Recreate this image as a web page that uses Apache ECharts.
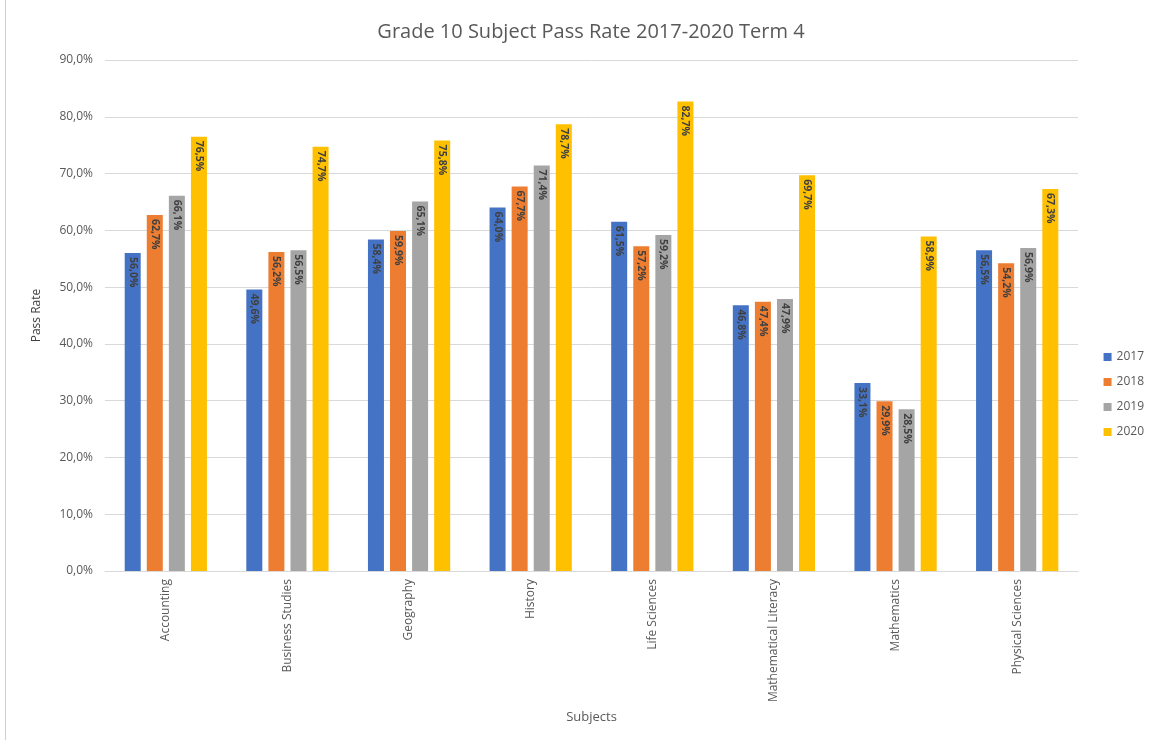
<!DOCTYPE html>
<html>
<head>
<meta charset="utf-8">
<script src="https://cdn.jsdelivr.net/npm/echarts@6/dist/echarts.min.js"></script>
<style>
  html, body { margin: 0; padding: 0; background: #fff; }
  #chart { width: 1163px; height: 740px; }
</style>
</head>
<body>
<div id="chart"></div>
<script>
// Subjects on the category axis
const subjects = ['Accounting', 'Business Studies', 'Geography', 'History', 'Life Sciences',
  'Mathematical Literacy', 'Mathematics', 'Physical Sciences'];
const years = ['2017', '2018', '2019', '2020'];

// Pass rates (%) per year
const pass2017 = [56.0, 49.6, 58.4, 64.0, 61.5, 46.8, 33.1, 56.5];
const pass2018 = [62.7, 56.2, 59.9, 67.7, 57.2, 47.4, 29.9, 54.2];
const pass2019 = [66.1, 56.5, 65.1, 71.4, 59.2, 47.9, 28.5, 56.9];
const pass2020 = [76.5, 74.7, 75.8, 78.7, 82.7, 69.7, 58.9, 67.3];

const colors = ['#4472C4', '#ED7D31', '#A5A5A5', '#FFC000'];
const FONT = '"Open Sans", Lato, sans-serif';

const pct = v => v.toFixed(1).replace('.', ',') + '%';

function barSeries(name, data) {
  return {
    name: name,
    type: 'bar',
    data: data,
    barWidth: 16,
    barGap: '38%',
    label: {
      show: true,
      position: 'insideTop',
      rotate: -90,
      align: 'left',
      verticalAlign: 'middle',
      distance: 4,
      color: '#404040',
      fontFamily: FONT,
      fontSize: 10.5,
      fontWeight: 'bold',
      formatter: p => pct(p.value)
    }
  };
}

const chart = echarts.init(document.getElementById('chart'));
chart.setOption({
  animation: false,
  color: colors,
  textStyle: { fontFamily: FONT },
  title: {
    text: 'Grade 10 Subject Pass Rate 2017-2020 Term 4',
    left: 586,
    textAlign: 'center',
    top: 17,
    textStyle: { fontFamily: FONT, fontSize: 20, fontWeight: 'normal', color: '#595959' }
  },
  legend: {
    orient: 'vertical',
    right: 14,
    top: 346,
    icon: 'rect',
    itemWidth: 8,
    itemHeight: 8,
    itemGap: 13,
    data: years,
    textStyle: { fontFamily: FONT, fontSize: 12, color: '#595959' }
  },
  grid: { left: 105, right: 85, top: 60, bottom: 169, containLabel: false },
  xAxis: {
    type: 'category',
    data: subjects,
    name: 'Subjects',
    nameLocation: 'middle',
    nameGap: 140,
    nameTextStyle: { fontFamily: FONT, fontSize: 13, color: '#595959' },
    axisLine: { lineStyle: { color: '#D9D9D9' } },
    axisTick: { show: false },
    axisLabel: {
      rotate: 90,
      interval: 0,
      margin: 8,
      fontFamily: FONT,
      fontSize: 12,
      color: '#595959'
    }
  },
  yAxis: {
    type: 'value',
    min: 0,
    max: 90,
    interval: 10,
    name: 'Pass Rate',
    nameLocation: 'middle',
    nameGap: 62,
    nameRotate: 90,
    nameTextStyle: { fontFamily: FONT, fontSize: 12, color: '#404040' },
    axisLine: { show: false },
    axisTick: { show: false },
    splitLine: { lineStyle: { color: '#D9D9D9' } },
    axisLabel: {
      margin: 12,
      fontFamily: FONT,
      fontSize: 12,
      color: '#595959',
      formatter: v => pct(v)
    }
  },
  graphic: [{
    type: 'line',
    shape: { x1: 5.5, y1: 0, x2: 5.5, y2: 740 },
    style: { stroke: '#D0D0D0', lineWidth: 1 }
  }],
  series: [
    barSeries(years[0], pass2017),
    barSeries(years[1], pass2018),
    barSeries(years[2], pass2019),
    barSeries(years[3], pass2020)
  ]
});
</script>
</body>
</html>
